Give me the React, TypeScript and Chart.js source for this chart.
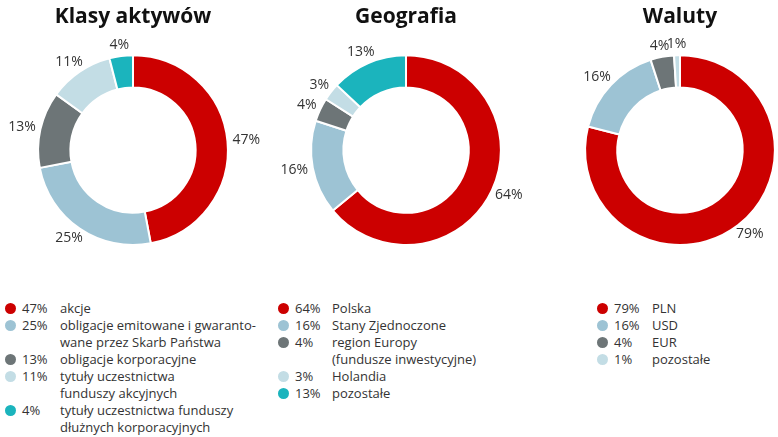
import React, { useEffect, useRef } from "react";
import { Chart, registerables } from "chart.js";

Chart.register(...registerables);

const assetTitle = "Klasy aktywów";
const assetLabels = [
  "akcje",
  "obligacje emitowane i gwaranto-\nwane przez Skarb Państwa",
  "obligacje korporacyjne",
  "tytuły uczestnictwa\nfunduszy akcyjnych",
  "tytuły uczestnictwa funduszy\ndłużnych korporacyjnych",
];
const assetValues = [47, 25, 13, 11, 4];
const assetColors = ["#cc0000", "#9dc3d4", "#6d7577", "#c3dde5", "#1bb4bd"];

const geoTitle = "Geografia";
const geoLabels = [
  "Polska",
  "Stany Zjednoczone",
  "region Europy\n(fundusze inwestycyjne)",
  "Holandia",
  "pozostałe",
];
const geoValues = [64, 16, 4, 3, 13];
const geoColors = ["#cc0000", "#9dc3d4", "#6d7577", "#c3dde5", "#1bb4bd"];

const curTitle = "Waluty";
const curLabels = ["PLN", "USD", "EUR", "pozostałe"];
const curValues = [79, 16, 4, 1];
const curColors = ["#cc0000", "#9dc3d4", "#6d7577", "#c3dde5"];

const FONT = "'Open Sans', 'Noto Sans', sans-serif";
const TEXT = "#333333";

const outsideLabels = {
  id: "outsideLabels",
  afterDatasetsDraw(chart: any) {
    const ctx = chart.ctx;
    const meta = chart.getDatasetMeta(0);
    const values = chart.data.datasets[0].data;
    ctx.save();
    ctx.font = `14px ${FONT}`;
    ctx.fillStyle = TEXT;
    ctx.textAlign = "center";
    ctx.textBaseline = "middle";
    meta.data.forEach((arc: any, i: number) => {
      const p = arc.getProps(["x", "y", "startAngle", "endAngle", "outerRadius"], true);
      const mid = (p.startAngle + p.endAngle) / 2;
      const dx = Math.cos(mid);
      const dy = Math.sin(mid);
      const text = `${values[i]}%`;
      const w = ctx.measureText(text).width;
      const h = 13;
      const r = p.outerRadius + 5;
      const x = p.x + dx * r + (dx * w) / 2;
      const y = p.y + dy * r + (dy * h) / 2;
      ctx.fillText(text, x, y);
    });
    ctx.restore();
  },
};

type DonutProps = {
  title: string;
  labels: string[];
  values: number[];
  colors: string[];
  left: number;
  width: number;
  padLeft: number;
  padRight: number;
};

function Donut({ title, labels, values, colors, left, width, padLeft, padRight }: DonutProps) {
  const ref = useRef<HTMLCanvasElement>(null);
  useEffect(() => {
    if (!ref.current) return;
    const chart = new Chart(ref.current, {
      type: "doughnut",
      data: {
        labels,
        datasets: [
          {
            data: values,
            backgroundColor: colors,
            borderColor: "#ffffff",
            borderWidth: 2,
          },
        ],
      },
      options: {
        responsive: false,
        animation: false,
        cutout: "66%",
        layout: { padding: { left: padLeft, right: padRight, top: 0, bottom: 14 } },
        plugins: {
          legend: { display: false },
          tooltip: { enabled: false },
          title: {
            display: true,
            text: title,
            color: "#111111",
            font: { family: FONT, size: 21, weight: "bold", lineHeight: 1.2 },
            padding: { top: 4, bottom: 25 },
          },
        },
      },
      plugins: [outsideLabels],
    });
    return () => chart.destroy();
  }, []);
  return (
    <canvas
      ref={ref}
      width={width}
      height={260}
      style={{ position: "absolute", left, top: 0, width, height: 260 }}
    />
  );
}

type LegendProps = {
  labels: string[];
  values: number[];
  colors: string[];
  dotLeft: number;
  pctLeft: number;
  labelLeft: number;
};

function Legend({ labels, values, colors, dotLeft, pctLeft, labelLeft }: LegendProps) {
  return (
    <div style={{ position: "absolute", left: dotLeft, top: 300, fontFamily: FONT, fontSize: 13, lineHeight: "17px", color: TEXT }}>
      {labels.map((lab, i) => (
        <div key={i} style={{ position: "relative", paddingLeft: labelLeft - dotLeft, whiteSpace: "pre" }}>
          <span
            style={{
              position: "absolute",
              left: 0,
              top: 3,
              width: 11,
              height: 11,
              borderRadius: "50%",
              background: colors[i],
            }}
          />
          <span style={{ position: "absolute", left: pctLeft - dotLeft, top: 0 }}>{`${values[i]}%`}</span>
          {lab}
        </div>
      ))}
    </div>
  );
}

export default function App() {
  return (
    <div style={{ position: "absolute", left: 0, top: 0, width: 778, height: 437, overflow: "hidden", background: "#fff" }}>
      <Donut title={assetTitle} labels={assetLabels} values={assetValues} colors={assetColors} left={0} width={270} padLeft={37} padRight={41} />
      <Donut title={geoTitle} labels={geoLabels} values={geoValues} colors={geoColors} left={275} width={265} padLeft={35} padRight={38} />
      <Donut title={curTitle} labels={curLabels} values={curValues} colors={curColors} left={550} width={228} padLeft={34} padRight={2} />
      <Legend labels={assetLabels} values={assetValues} colors={assetColors} dotLeft={5} pctLeft={22} labelLeft={60} />
      <Legend labels={geoLabels} values={geoValues} colors={geoColors} dotLeft={278} pctLeft={295} labelLeft={332} />
      <Legend labels={curLabels} values={curValues} colors={curColors} dotLeft={597} pctLeft={614} labelLeft={652} />
    </div>
  );
}
